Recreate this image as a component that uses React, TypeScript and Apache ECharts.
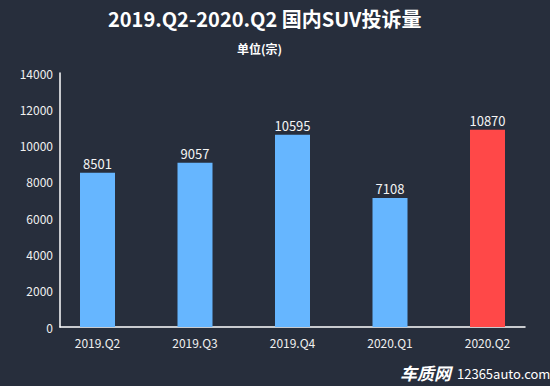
import React, { useEffect, useRef } from "react";
import * as echarts from "echarts";

const categories = ["2019.Q2", "2019.Q3", "2019.Q4", "2020.Q1", "2020.Q2"];
const complaints = [8501, 9057, 10595, 7108, 10870];
const barColors = ["#66b6ff", "#66b6ff", "#66b6ff", "#66b6ff", "#ff4848"];
const titleText = "2019.Q2-2020.Q2 国内SUV投诉量";
const unitText = "单位(宗)";

const FONT = "'Noto Sans CJK SC', 'Noto Sans', sans-serif";

export default function App() {
  const ref = useRef<HTMLDivElement>(null);
  useEffect(() => {
    if (!ref.current) return;
    const chart = echarts.init(ref.current, null, { renderer: "svg" });
    const top = 73;
    const height = 254;
    chart.setOption({
      animation: false,
      backgroundColor: "#272e3c",
      textStyle: { fontFamily: FONT },
      title: [
        {
          text: titleText,
          left: 108,
          top: 8,
          padding: 0,
          textStyle: { color: "#ffffff", fontSize: 20, fontWeight: "bold", fontFamily: FONT },
        },
        {
          text: unitText,
          left: 237,
          top: 42,
          padding: 0,
          textStyle: { color: "#ffffff", fontSize: 12, fontWeight: "bold", fontFamily: FONT },
        },
      ],
      grid: [
        { left: 60, top, width: 465, height },
        { left: 48.75, top, width: 487.5, height },
      ],
      xAxis: [
        {
          gridIndex: 0,
          type: "value",
          min: 0,
          max: 1,
          axisLine: { show: true, lineStyle: { color: "#ffffff", width: 1.5 } },
          axisTick: { show: false },
          axisLabel: { show: false },
          splitLine: { show: false },
        },
        {
          gridIndex: 1,
          type: "category",
          data: categories,
          axisLine: { show: false },
          axisTick: { show: false },
          axisLabel: { color: "#f0f0f0", fontSize: 12, margin: 9, fontFamily: FONT },
        },
      ],
      yAxis: [
        {
          gridIndex: 0,
          type: "value",
          min: 0,
          max: 14000,
          interval: 2000,
          axisLine: { show: true, lineStyle: { color: "#ffffff", width: 1.5 } },
          axisTick: { show: false },
          splitLine: { show: false },
          axisLabel: {
            color: "#f0f0f0",
            fontSize: 12,
            margin: 7,
            fontFamily: FONT,
            formatter: (v: number) => String(v),
          },
        },
        {
          gridIndex: 1,
          type: "value",
          min: 0,
          max: 14000,
          show: false,
          splitLine: { show: false },
        },
      ],
      series: [
        {
          type: "bar",
          xAxisIndex: 1,
          yAxisIndex: 1,
          barWidth: 35,
          data: complaints.map((v, i) => ({ value: v, itemStyle: { color: barColors[i] } })),
          label: {
            show: true,
            position: "top",
            distance: 3,
            color: "#f4f4f4",
            fontSize: 13,
            fontFamily: FONT,
          },
        },
      ],
      graphic: [
        {
          type: "text",
          left: 400,
          top: 364,
          style: {
            text: "车质网",
            fill: "#ffffff",
            font: `italic bold 17px ${FONT}`,
          },
        },
        {
          type: "text",
          left: 457,
          top: 367,
          style: {
            text: "12365auto.com",
            fill: "#ffffff",
            font: `13px ${FONT}`,
          },
        },
      ],
    });
    return () => chart.dispose();
  }, []);
  return (
    <div
      ref={ref}
      style={{ position: "fixed", left: 0, top: 0, width: 550, height: 386 }}
    />
  );
}
